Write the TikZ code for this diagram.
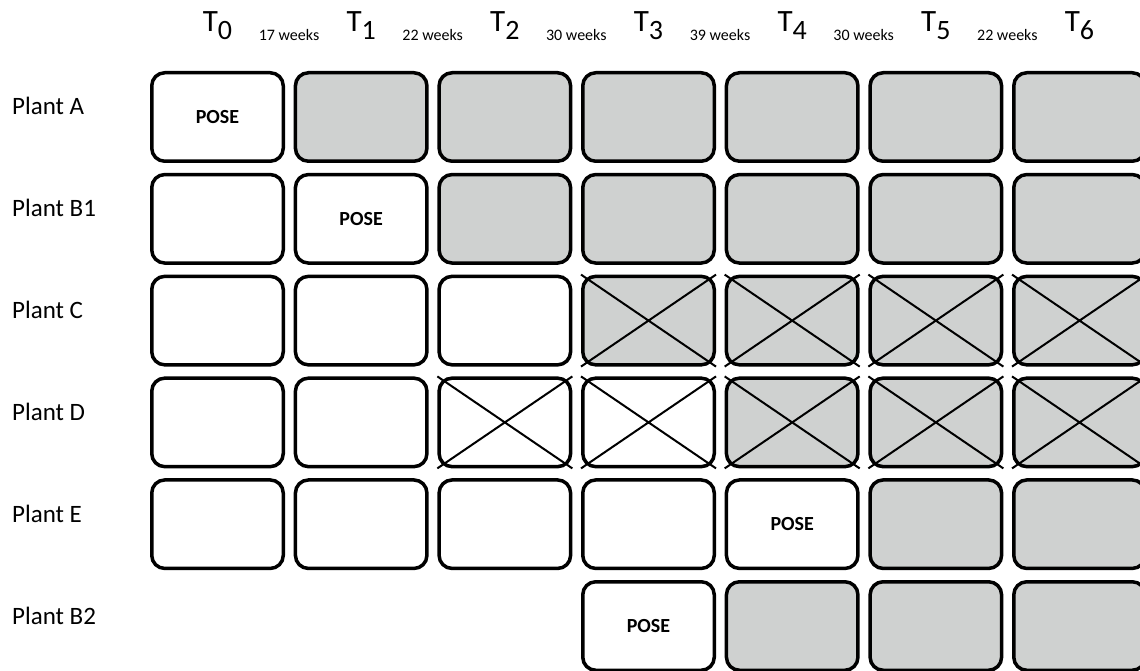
\documentclass[tikz,border=0pt]{standalone}
\usepackage{fontspec}
\setmainfont{Carlito}
\definecolor{cellgray}{RGB}{207,209,208}
\tikzset{
  cell/.style={draw,line width=3.5pt,rounded corners=13pt,fill=white,
    minimum width=131.5pt,minimum height=88.5pt,inner sep=0pt},
  cell w/.style={cell},
  cell p/.style={cell},
  cell wx/.style={cell},
  cell g/.style={cell,fill=cellgray},
  cell gx/.style={cell g},
  crossline/.style={line width=2pt},
  pose/.style={font=\fontsize{20}{24}\selectfont\bfseries,inner sep=0pt},
  plant/.style={anchor=base west,inner sep=0pt,font=\fontsize{25}{30}\selectfont},
  tlabel/.style={anchor=base,inner sep=0pt,font=\fontsize{31}{36}\selectfont},
  weeks/.style={anchor=base,inner sep=0pt,font=\fontsize{16}{19}\selectfont}
}
\begin{document}
\begin{tikzpicture}[x=1pt,y=1pt]
  \useasboundingbox (0,0) rectangle (1140,-671);
  % time points and gaps
  \foreach \i in {0,...,6}
    \node[tlabel] (t\i) at ({217.5+143.67*\i},-32) {T\raisebox{-8pt}{\fontsize{28}{30}\selectfont\i}};
  \foreach \i/\w in {0/17,1/22,2/30,3/39,4/30,5/22}
    \node[weeks] (w\i) at ({289+143.67*\i},-40.7) {\w~weeks};
  % plants
  \foreach \j/\p in {0/A,1/B1,2/C,3/D,4/E,5/B2}
    \node[plant] (l\j) at (12,{-115-101.8*\j}) {Plant \p};
  % cells
  \foreach \j/\first/\cells in {0/0/{p,g,g,g,g,g,g},1/0/{w,p,g,g,g,g,g},
      2/0/{w,w,w,gx,gx,gx,gx},3/0/{w,w,wx,wx,gx,gx,gx},
      4/0/{w,w,w,w,p,g,g},5/3/{p,g,g,g}}
    \foreach \k [count=\i from \first] in \cells
      \node[cell \k] (c\j\i) at ({217.5+143.67*\i},{-117-101.8*\j}) {};
  \foreach \c in {c23,c24,c25,c26,c32,c33,c34,c35,c36}
    \draw[crossline] (\c.north west) -- (\c.south east)
                     (\c.south west) -- (\c.north east);
  \foreach \c in {c00,c11,c44,c53}
    \node[pose] (p\c) at (\c) {POSE};
\end{tikzpicture}
\end{document}
